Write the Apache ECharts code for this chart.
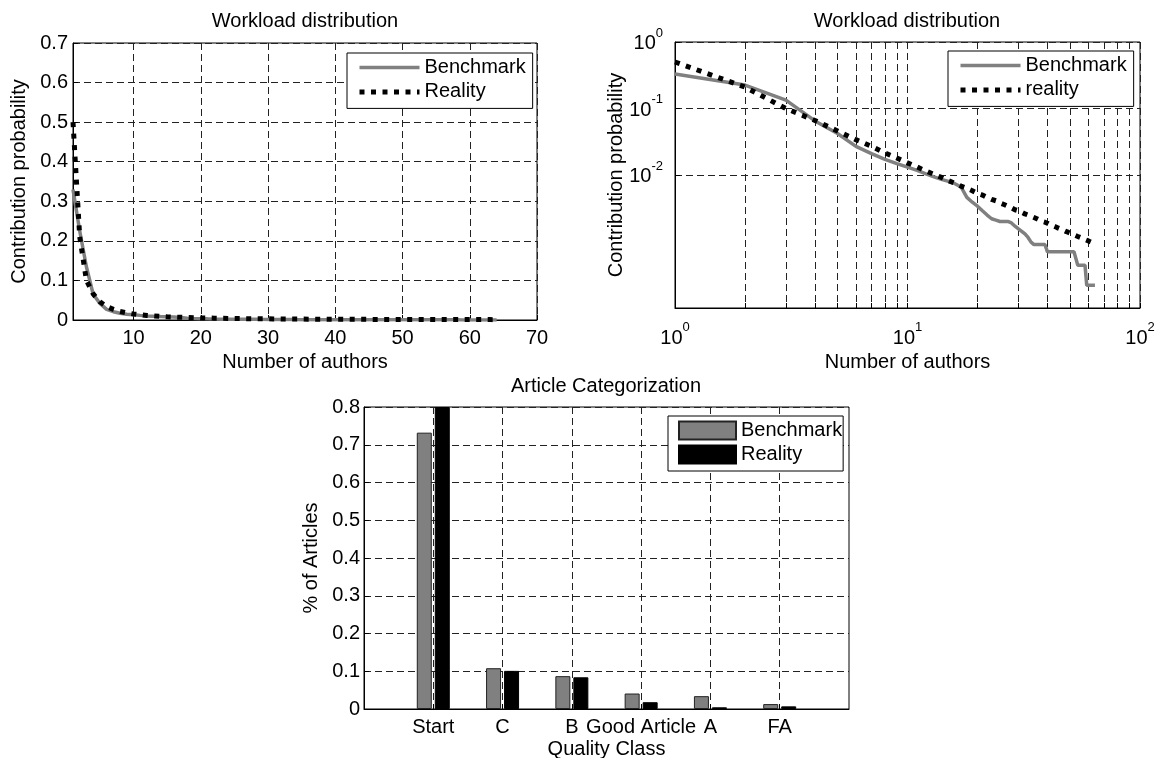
<!DOCTYPE html>
<html>
<head>
<meta charset="utf-8">
<title>Workload distribution</title>
<script src="https://cdn.jsdelivr.net/npm/echarts@6/dist/echarts.min.js"></script>
<style>
  html, body { margin: 0; padding: 0; background: #fff; }
  #chart { width: 1155px; height: 758px; }
</style>
</head>
<body>
<div id="chart"></div>
<script>
// number of authors
var authors = [1, 2, 3, 4, 5, 6, 7, 8, 9, 10, 11, 12, 13, 14, 15, 16, 17, 18, 19, 20,
  21, 22, 23, 24, 25, 26, 27, 28, 29, 30, 31, 32, 33, 34, 35, 36, 37, 38, 39, 40,
  41, 42, 43, 44, 45, 46, 47, 48, 49, 50, 51, 52, 53, 54, 55, 56, 57, 58, 59, 60,
  61, 62, 63, 64]
// contribution probability
var benchmark = [0.33, 0.225, 0.134, 0.065, 0.042, 0.027, 0.021, 0.0172, 0.0148, 0.0131,
  0.0117, 0.0104, 0.0094, 0.0086, 0.008, 0.0074, 0.0066, 0.0046, 0.0039, 0.0034,
  0.0029, 0.0025, 0.0022, 0.0021, 0.002, 0.002, 0.002, 0.0019, 0.0017, 0.00155,
  0.00142, 0.0013, 0.00115, 0.00098, 0.0009, 0.0009, 0.0009, 0.0009, 0.0009, 0.0007,
  0.0007, 0.0007, 0.0007, 0.0007, 0.0007, 0.0007, 0.0007, 0.0007, 0.0007, 0.0007,
  0.0007, 0.0007, 0.0007, 0.00044, 0.00044, 0.00044, 0.00044, 0.00044, 0.00022, 0.00022,
  0.00022, 0.00022, 0.00022, 0.00022]
var reality = [0.5, 0.21, 0.1, 0.066, 0.046, 0.034, 0.027, 0.0215, 0.018, 0.0152,
  0.0132, 0.0115, 0.0102, 0.0092, 0.0082, 0.0075, 0.0068, 0.0063, 0.0058, 0.0053,
  0.005, 0.0046, 0.0043, 0.0041, 0.0038, 0.0036, 0.0034, 0.0032, 0.003, 0.0029,
  0.00275, 0.0026, 0.0025, 0.0024, 0.0023, 0.0022, 0.0021, 0.002, 0.00195, 0.00188,
  0.0018, 0.00174, 0.00168, 0.00162, 0.00157, 0.00152, 0.00147, 0.00142, 0.00138, 0.00134,
  0.0013, 0.00126, 0.00123, 0.00119, 0.00116, 0.00113, 0.0011, 0.00107, 0.00104, 0.00102,
  0.00099, 0.00097, 0.00095, 0.00093]

var linTicks = [10, 20, 30, 40, 50, 60, 70]
var logXTicks = [1, 2, 3, 4, 5, 6, 7, 8, 9, 10, 20, 30, 40, 50, 60, 70, 80, 90, 100]
var logXLabels = [1, 10, 100]
var logYTicks = [0.01, 0.1, 1]

// article categorization
var qualityClasses = ['Start', 'C', 'B', 'Good Article', 'A', 'FA']
var classPositions = [1, 2, 3, 4, 5, 6]
var benchmarkShare = [0.732, 0.108, 0.087, 0.041, 0.034, 0.013]
var realityShare = [0.8, 0.101, 0.084, 0.018, 0.0045, 0.007]

var FONT = '"Liberation Sans", Arial, sans-serif'
var txt = { color: '#000', fontSize: 20, fontFamily: FONT, lineHeight: 21 }
var dash = { type: [7, 4], color: '#222', width: 1 }
var benchLine = { color: '#808080', width: 3.5, type: 'solid' }
var realLine = { color: '#000', width: 5, type: [5, 6.5], cap: 'butt' }

function pairs (xs, ys) {
  return xs.map(function (x, i) { return [x, ys[i]] })
}

function powLabel (v) {
  return '{b|10}{s|' + Math.round(Math.log10(v)) + '}'
}

var rich = {
  b: { fontSize: 20, fontFamily: FONT, color: '#000', verticalAlign: 'bottom' },
  s: { fontSize: 13, fontFamily: FONT, color: '#000', padding: [0, 0, 14, 0], verticalAlign: 'bottom' }
}

function baseAxis (grid) {
  return {
    gridIndex: grid,
    axisLine: { show: true, onZero: false, lineStyle: { color: '#000', width: 1 } },
    axisTick: { show: true, inside: true, length: 5, lineStyle: { color: '#000' } },
    splitLine: { show: true, lineStyle: dash },
    nameLocation: 'middle',
    nameMoveOverlap: false,
    nameTextStyle: txt
  }
}

function ticks (values) {
  return { show: true, inside: true, length: 5, lineStyle: { color: '#000' }, customValues: values }
}

function legendBox (left, top, extra) {
  var l = {
    orient: 'vertical',
    left: left,
    top: top,
    backgroundColor: '#fff',
    borderColor: '#000',
    borderWidth: 1,
    borderRadius: 0,
    padding: [4, 7, 6, 10],
    itemWidth: 60,
    itemHeight: 14,
    itemGap: 3.4,
    textStyle: txt,
    selectedMode: false,
    formatter: function (name) { return name.split(' (')[0] }
  }
  for (var k in extra) l[k] = extra[k]
  return l
}

var hiddenSymbol = { opacity: 0, color: 'rgba(0,0,0,0)', borderColor: 'rgba(0,0,0,0)', borderWidth: 0 }

var chart = echarts.init(document.getElementById('chart'), null, { renderer: 'canvas' })

var gridStyle = { show: true, borderColor: '#000', borderWidth: 1, backgroundColor: '#fff', containLabel: false, outerBoundsMode: 'none' }
var titleText = Object.assign({}, txt, { fontWeight: 'normal' })

var option = {
  backgroundColor: '#fff',
  animation: false,
  title: [
    { text: 'Workload distribution', left: 305, top: 11, textAlign: 'center', padding: 0, textStyle: titleText },
    { text: 'Workload distribution', left: 907, top: 11, textAlign: 'center', padding: 0, textStyle: titleText },
    { text: 'Article Categorization', left: 606, top: 376, textAlign: 'center', padding: 0, textStyle: titleText }
  ],
  grid: [
    Object.assign({ left: 73, top: 43, width: 464, height: 277 }, gridStyle),
    Object.assign({ left: 675, top: 42, width: 465, height: 266 }, gridStyle),
    Object.assign({ left: 364, top: 407, width: 485, height: 302 }, gridStyle)
  ],
  legend: [
    legendBox(347, 53, {
      itemStyle: hiddenSymbol,
      data: [
        { name: 'Benchmark', lineStyle: benchLine, itemStyle: hiddenSymbol },
        { name: 'Reality', lineStyle: realLine, itemStyle: hiddenSymbol }
      ]
    }),
    legendBox(948, 51, {
      itemStyle: hiddenSymbol,
      data: [
        { name: 'Benchmark (log)', lineStyle: benchLine, itemStyle: hiddenSymbol },
        { name: 'reality', lineStyle: realLine, itemStyle: hiddenSymbol }
      ]
    }),
    legendBox(668, 416, {
      data: ['Benchmark (bar)', 'Reality (bar)'],
      icon: 'rect',
      padding: [4, 1, 6, 10],
      itemWidth: 57,
      itemHeight: 18,
      itemGap: 3
    })
  ],
  xAxis: [
    Object.assign(baseAxis(0), {
      type: 'value', min: 1, max: 70,
      name: 'Number of authors', nameGap: 32,
      axisTick: ticks(linTicks),
      axisLabel: Object.assign({ margin: 8, customValues: linTicks }, txt)
    }),
    Object.assign(baseAxis(1), {
      type: 'log', logBase: 10, min: 1, max: 100,
      name: 'Number of authors', nameGap: 44,
      axisTick: ticks(logXTicks),
      axisLabel: { margin: 13, customValues: logXLabels, formatter: powLabel, rich: rich }
    }),
    Object.assign(baseAxis(2), {
      type: 'value', min: 0, max: 7,
      name: 'Quality Class', nameGap: 30,
      axisTick: ticks(classPositions),
      axisLabel: Object.assign({
        margin: 8,
        customValues: classPositions,
        formatter: function (v) { return qualityClasses[Math.round(v) - 1] }
      }, txt)
    })
  ],
  yAxis: [
    Object.assign(baseAxis(0), {
      type: 'value', min: 0, max: 0.7, interval: 0.1,
      name: 'Contribution probability', nameGap: 43, nameRotate: 90,
      axisLabel: Object.assign({ margin: 5 }, txt)
    }),
    Object.assign(baseAxis(1), {
      type: 'log', logBase: 10, min: 0.0001, max: 1,
      name: 'Contribution probability', nameGap: 48, nameRotate: 90,
      axisTick: ticks(logYTicks),
      axisLabel: { margin: 12, customValues: logYTicks, formatter: powLabel, rich: rich, padding: [0, 0, 4, 0] }
    }),
    Object.assign(baseAxis(2), {
      type: 'value', min: 0, max: 0.8, interval: 0.1,
      name: '% of Articles', nameGap: 42, nameRotate: 90,
      axisLabel: Object.assign({ margin: 4 }, txt)
    })
  ],
  series: [
    {
      name: 'Benchmark', type: 'line', xAxisIndex: 0, yAxisIndex: 0,
      data: pairs(authors, benchmark), symbol: 'none', z: 3,
      lineStyle: benchLine, itemStyle: { color: '#808080' }
    },
    {
      name: 'Reality', type: 'line', xAxisIndex: 0, yAxisIndex: 0,
      data: pairs(authors, reality), symbol: 'none', z: 4,
      lineStyle: realLine, itemStyle: { color: '#000' }
    },
    {
      name: 'Benchmark (log)', type: 'line', xAxisIndex: 1, yAxisIndex: 1,
      data: pairs(authors, benchmark), symbol: 'none', z: 3,
      lineStyle: benchLine, itemStyle: { color: '#808080' }
    },
    {
      name: 'reality', type: 'line', xAxisIndex: 1, yAxisIndex: 1,
      data: pairs(authors, reality), symbol: 'none', z: 4,
      lineStyle: realLine, itemStyle: { color: '#000' }
    },
    {
      name: 'Benchmark (bar)', type: 'bar', xAxisIndex: 2, yAxisIndex: 2,
      data: pairs(classPositions, benchmarkShare),
      barWidth: 15, barGap: '20%',
      itemStyle: { color: '#808080', borderColor: '#222', borderWidth: 1 }
    },
    {
      name: 'Reality (bar)', type: 'bar', xAxisIndex: 2, yAxisIndex: 2,
      data: pairs(classPositions, realityShare),
      barWidth: 15, barGap: '20%',
      itemStyle: { color: '#000', borderColor: '#000', borderWidth: 1 }
    }
  ]
}

chart.setOption(option)
</script>
</body>
</html>
